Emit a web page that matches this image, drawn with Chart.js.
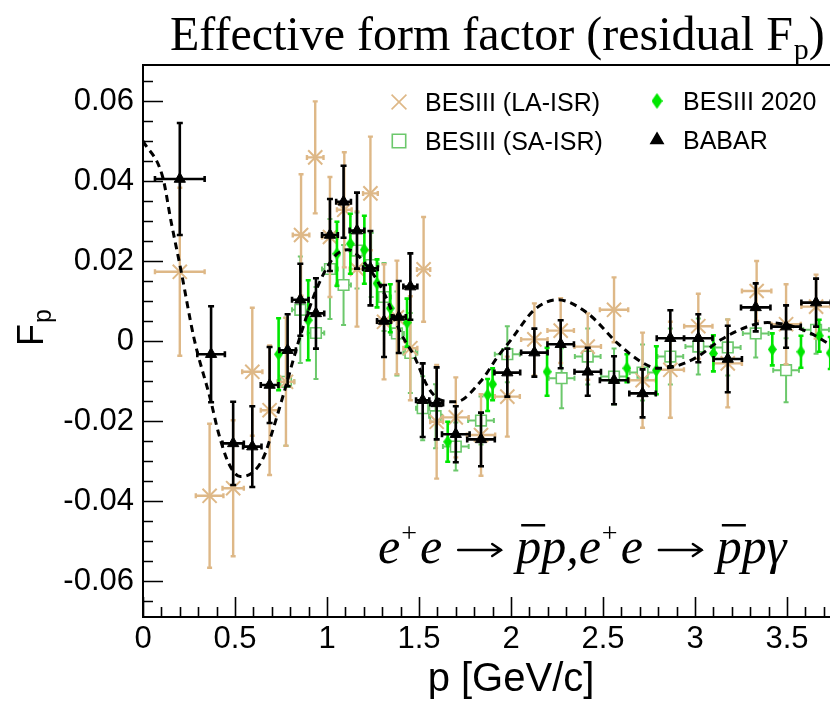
<!DOCTYPE html>
<html>
<head>
<meta charset="utf-8">
<title>Effective form factor</title>
<script src="https://cdn.jsdelivr.net/npm/chart.js@4.4.1/dist/chart.umd.min.js"></script>
<style>
  html, body { margin: 0; padding: 0; background: #fff; overflow: hidden; }
  #wrap { width: 830px; height: 704px; overflow: hidden; }
  canvas { display: block; }
</style>
</head>
<body>
<div id="wrap"><canvas id="ffChart" width="900" height="704"></canvas></div>
<script>
// BESIII (LA-ISR): p [GeV/c], residual F_p, half bin width, error
const laP  = [0.20, 0.362, 0.49, 0.594, 0.688, 0.777, 0.859, 0.936, 1.016, 1.094, 1.163, 1.236, 1.31, 1.38, 1.453, 1.525, 1.596, 1.70, 1.837, 1.98, 2.127, 2.27, 2.417, 2.56, 2.715, 2.866, 3.018, 3.178, 3.335, 3.495, 3.658];
const laF  = [0.0173, -0.0387, -0.0368, -0.0077, -0.0173, -0.0102, 0.0265, 0.0459, 0.026, 0.0328, 0.018, 0.0369, 0.0048, 0.0059, -0.0018, 0.0179, -0.0202, -0.0191, -0.0235, -0.0139, 0.0004, 0.0026, -0.0014, 0.0078, -0.0098, -0.0072, 0.0037, -0.0056, 0.0125, 0.0042, 0.0086];
const laDp = [0.135, 0.075, 0.058, 0.055, 0.048, 0.045, 0.045, 0.045, 0.043, 0.04, 0.04, 0.04, 0.038, 0.038, 0.038, 0.036, 0.035, 0.07, 0.077, 0.068, 0.072, 0.072, 0.072, 0.077, 0.072, 0.074, 0.077, 0.077, 0.08, 0.08, 0.08];
const laDF = [0.021, 0.018, 0.017, 0.016, 0.0162, 0.016, 0.0152, 0.014, 0.015, 0.0144, 0.0144, 0.0142, 0.0144, 0.0142, 0.013, 0.0131, 0.0142, 0.010, 0.0102, 0.010, 0.009, 0.0081, 0.0083, 0.0081, 0.0119, 0.012, 0.0081, 0.011, 0.0075, 0.010, 0.008];

// BESIII (SA-ISR)
const saP  = [0.777, 0.855, 0.94, 1.016, 1.09, 1.163, 1.24, 1.31, 1.38, 1.453, 1.52, 1.59, 1.70, 1.837, 1.98, 2.275, 2.417, 2.56, 2.715, 2.866, 3.018, 3.178, 3.33, 3.495, 3.658];
const saF  = [-0.0102, 0.0078, 0.002, 0.018, 0.014, 0.0226, 0.019, 0.011, 0.0019, -0.003, -0.0168, -0.0188, -0.0264, -0.0199, -0.0033, -0.0093, -0.0039, -0.0089, -0.0079, -0.0039, -0.0014, -0.0016, 0.0019, -0.0073, 0.0028];
const saDp = [0.045, 0.045, 0.045, 0.043, 0.04, 0.04, 0.04, 0.038, 0.038, 0.038, 0.036, 0.035, 0.07, 0.07, 0.068, 0.07, 0.07, 0.07, 0.07, 0.07, 0.07, 0.07, 0.07, 0.07, 0.07];
const saDF = [0.016, 0.0133, 0.0115, 0.0125, 0.010, 0.0095, 0.008, 0.0085, 0.0105, 0.010, 0.008, 0.008, 0.006, 0.006, 0.007, 0.0075, 0.007, 0.007, 0.007, 0.007, 0.007, 0.007, 0.006, 0.008, 0.006];

// BESIII 2020 (no bin widths)
const b20P  = [0.737, 0.898, 1.054, 1.127, 1.203, 1.272, 1.344, 1.435, 1.656, 1.873, 1.90, 2.196, 2.63, 2.79, 3.1, 3.42, 3.576, 3.675, 3.735];
const b20F  = [-0.0033, 0.0052, 0.0218, 0.0243, 0.0228, 0.0144, 0.0082, 0.0046, -0.0252, -0.0135, -0.0108, -0.0077, -0.0068, -0.0073, -0.0031, -0.0021, -0.0027, 0.0013, -0.003];
const b20DF = [0.009, 0.010, 0.008, 0.0075, 0.0085, 0.006, 0.006, 0.006, 0.005, 0.004, 0.004, 0.006, 0.0035, 0.006, 0.0045, 0.004, 0.004, 0.004, 0.004];

// BABAR
const bbP  = [0.20, 0.37, 0.49, 0.594, 0.688, 0.786, 0.855, 0.94, 1.016, 1.09, 1.163, 1.236, 1.31, 1.39, 1.453, 1.52, 1.596, 1.70, 1.837, 1.98, 2.127, 2.27, 2.417, 2.56, 2.715, 2.866, 3.018, 3.178, 3.33, 3.495, 3.658];
const bbF  = [0.0405, -0.0033, -0.0256, -0.0264, -0.011, -0.0023, 0.0103, 0.0069, 0.0265, 0.0348, 0.0276, 0.0182, 0.005, 0.006, 0.0136, -0.0148, -0.0156, -0.0233, -0.0246, -0.0079, -0.0029, -0.0008, -0.0077, -0.0098, -0.0131, 0.0007, 0.0007, -0.0045, 0.0084, 0.0036, 0.0096];
const bbDp = [0.135, 0.075, 0.058, 0.05, 0.048, 0.045, 0.045, 0.045, 0.043, 0.04, 0.04, 0.04, 0.038, 0.038, 0.038, 0.036, 0.035, 0.075, 0.075, 0.07, 0.072, 0.072, 0.072, 0.077, 0.072, 0.074, 0.077, 0.077, 0.08, 0.08, 0.08];
const bbDF = [0.014, 0.012, 0.0104, 0.0101, 0.0095, 0.009, 0.009, 0.0088, 0.009, 0.009, 0.0095, 0.0093, 0.009, 0.009, 0.0083, 0.0092, 0.009, 0.007, 0.0067, 0.006, 0.006, 0.006, 0.006, 0.006, 0.006, 0.007, 0.006, 0.0083, 0.006, 0.0053, 0.006];

// oscillation fit (dashed)
const fitP = [0, 0.107, 0.152, 0.207, 0.279, 0.366, 0.411, 0.466, 0.529, 0.60, 0.656, 0.70, 0.765, 0.859, 0.949, 1.04, 1.112, 1.221, 1.311, 1.402, 1.475, 1.547, 1.62, 1.70, 1.837, 1.928, 2.0, 2.127, 2.254, 2.417, 2.58, 2.707, 2.797, 2.888, 3.015, 3.14, 3.286, 3.395, 3.504, 3.63, 3.74, 3.85];
const fitF = [0.050, 0.041, 0.030, 0.0175, 0.0003, -0.0145, -0.0231, -0.0306, -0.0339, -0.0327, -0.029, -0.0231, -0.0131, 0.0019, 0.0136, 0.0211, 0.0228, 0.0186, 0.0119, 0.0019, -0.0039, -0.0114, -0.0148, -0.0152, -0.0100, -0.0039, 0.0003, 0.0078, 0.0103, 0.0069, -0.0006, -0.0052, -0.0068, -0.0064, -0.0039, 0.0003, 0.0036, 0.0046, 0.004, 0.0019, -0.001, -0.003];

const xTicks = [0, 0.5, 1, 1.5, 2, 2.5, 3, 3.5, 4];
const yTicks = [-0.06, -0.04, -0.02, 0, 0.02, 0.04, 0.06];

const TAN = '#deb887';
const PALE_GREEN = '#6cc86c';
const LIME = '#00e600';

const points = (p, f, dp, df) => p.map((x, i) => ({ x, y: f[i], dx: dp ? dp[i] : 0, dy: df[i] }));

function diamond(w, h, color) {
    const c = document.createElement('canvas');
    c.width = w; c.height = h;
    const g = c.getContext('2d');
    g.fillStyle = color;
    g.beginPath();
    g.moveTo(w / 2, 0); g.lineTo(w, h / 2); g.lineTo(w / 2, h); g.lineTo(0, h / 2);
    g.closePath(); g.fill();
    return c;
}

// error bars with small end caps, drawn under each series' markers
const errorBars = {
    id: 'errorBars',
    beforeDatasetDraw(chart, args) {
        const ds = chart.data.datasets[args.index];
        if (!ds.barColor) return;
        const { ctx, chartArea: a, scales: { x: xs, y: ys } } = chart;
        const c = ds.capSize;
        ctx.save();
        ctx.beginPath();
        ctx.rect(a.left, a.top, a.right - a.left, a.bottom - a.top);
        ctx.clip();
        ctx.strokeStyle = ds.barColor;
        ctx.lineWidth = ds.barWidth;
        ctx.beginPath();
        ds.data.forEach(d => {
            const cx = xs.getPixelForValue(d.x), cy = ys.getPixelForValue(d.y);
            const y0 = ys.getPixelForValue(d.y - d.dy), y1 = ys.getPixelForValue(d.y + d.dy);
            ctx.moveTo(cx, y0); ctx.lineTo(cx, y1);
            ctx.moveTo(cx - c, y0); ctx.lineTo(cx + c, y0);
            ctx.moveTo(cx - c, y1); ctx.lineTo(cx + c, y1);
            if (d.dx > 0) {
                const x0 = xs.getPixelForValue(d.x - d.dx), x1 = xs.getPixelForValue(d.x + d.dx);
                ctx.moveTo(x0, cy); ctx.lineTo(x1, cy);
                ctx.moveTo(x0, cy - c); ctx.lineTo(x0, cy + c);
                ctx.moveTo(x1, cy - c); ctx.lineTo(x1, cy + c);
            }
        });
        ctx.stroke();
        ctx.restore();
    }
};

// frame, inward ticks, titles, legend and reaction label
const decorations = {
    id: 'decorations',
    afterDraw(chart) {
        const { ctx, chartArea: a, scales: { x: xs, y: ys } } = chart;
        ctx.save();

        // frame
        ctx.strokeStyle = '#000';
        ctx.lineWidth = 2;
        ctx.strokeRect(a.left, a.top, a.right - a.left, a.bottom - a.top);

        // ticks drawn inside the frame
        ctx.lineWidth = 1.6;
        ctx.beginPath();
        for (let v = -0.065; v <= 0.0651; v += 0.005) {
            const py = Math.round(ys.getPixelForValue(v)) + 0.5;
            const major = Math.abs(Math.round(v * 50) - v * 50) < 1e-6;
            ctx.moveTo(a.left, py); ctx.lineTo(a.left + (major ? 20 : 10), py);
        }
        for (let v = 0; v <= 4.0001; v += 0.1) {
            const px = Math.round(xs.getPixelForValue(v)) + 0.5;
            const major = Math.abs(Math.round(v * 2) - v * 2) < 1e-6;
            ctx.moveTo(px, a.bottom); ctx.lineTo(px, a.bottom - (major ? 20 : 10));
        }
        ctx.stroke();

        ctx.fillStyle = '#000';
        ctx.textBaseline = 'alphabetic';

        // plot title
        ctx.textAlign = 'left';
        ctx.font = '48px "Liberation Serif"';
        const t1 = 'Effective form factor (residual F';
        ctx.fillText(t1, 170, 50);
        let tx = 170 + ctx.measureText(t1).width;
        ctx.font = '30px "Liberation Serif"';
        ctx.fillText('p', tx + 1, 59);
        tx += 1 + ctx.measureText('p').width;
        ctx.font = '48px "Liberation Serif"';
        ctx.fillText(')', tx, 50);

        // y axis title F_p
        ctx.save();
        ctx.translate(43, 346);
        ctx.rotate(-Math.PI / 2);
        ctx.font = '36px "Liberation Sans"';
        ctx.fillText('F', 0, 0);
        const fw = ctx.measureText('F').width;
        ctx.font = '25px "Liberation Sans"';
        ctx.fillText('p', fw + 1, 8);
        ctx.restore();

        // legend
        const entries = [
            { ds: 1, x: 399, y: 102, text: 'BESIII (LA-ISR)' },
            { ds: 0, x: 399, y: 141, text: 'BESIII (SA-ISR)' },
            { ds: 2, x: 657, y: 101, text: 'BESIII 2020' },
            { ds: 3, x: 657, y: 140, text: 'BABAR' }
        ];
        entries.forEach(e => {
            const d = chart.data.datasets[e.ds];
            ctx.save();
            ctx.fillStyle = d.legendFill;
            ctx.strokeStyle = d.pointBorderColor;
            if (d.pointStyle instanceof HTMLCanvasElement) {
                ctx.drawImage(d.legendMarker, e.x - d.legendMarker.width / 2, e.y - d.legendMarker.height / 2);
            } else {
                Chart.helpers.drawPoint(ctx, {
                    pointStyle: d.pointStyle, radius: d.legendRadius,
                    borderWidth: d.legendBorder, rotation: 0
                }, e.x, e.y);
            }
            ctx.restore();
            ctx.font = '25px "Liberation Sans"';
            ctx.fillText(e.text, e.x + 26, e.y + 9);
        });

        // reaction label
        const base = 563, fs = 50;
        let rx = 378;
        const ital = `italic ${fs}px "Liberation Serif"`;
        const sup = `${Math.round(fs * 0.55)}px "Liberation Serif"`;
        const put = (s, font, dy) => {
            ctx.font = font;
            ctx.fillText(s, rx, base + dy);
            const w = ctx.measureText(s).width;
            rx += w;
            return w;
        };
        const arrow = () => {
            rx += fs * 0.32;
            const len = fs * 0.86, ay = base - fs * 0.26;
            ctx.save();
            ctx.lineWidth = 2.4;
            ctx.lineCap = 'round';
            ctx.beginPath();
            ctx.moveTo(rx, ay); ctx.lineTo(rx + len, ay);
            ctx.moveTo(rx + len - 9, ay - 6); ctx.lineTo(rx + len, ay); ctx.lineTo(rx + len - 9, ay + 6);
            ctx.stroke();
            ctx.restore();
            rx += len + fs * 0.3;
        };
        const pbar = () => {
            const x0 = rx;
            const w = put('p', ital, 0);
            ctx.fillRect(x0 + 5, base - fs * 0.78, w - 1, 2.5);
        };
        const eplus = () => {
            put('e', ital, 0);
            rx += 1;
            put('+', sup, -fs * 0.42);
            rx += 3;
            put('e', ital, 0);
        };
        eplus(); arrow(); pbar(); put('p', ital, 0); put(',', ital, 0);
        eplus(); arrow(); pbar(); put('p', ital, 0); put('\u03b3', ital, 0);

        ctx.restore();
    }
};

Chart.defaults.font.family = '"Liberation Sans", Arial, sans-serif';
Chart.defaults.color = '#000';

new Chart(document.getElementById('ffChart'), {
    type: 'scatter',
    data: {
        datasets: [
            {
                label: 'BESIII (SA-ISR)',
                data: points(saP, saF, saDp, saDF),
                order: 5,
                pointStyle: 'rect', pointRadius: 7.5,
                pointBackgroundColor: '#fff', pointBorderColor: PALE_GREEN, pointBorderWidth: 1.6,
                barColor: PALE_GREEN, barWidth: 2, capSize: 2.5,
                legendFill: '#fff', legendRadius: 9.5, legendBorder: 1.5
            },
            {
                label: 'BESIII (LA-ISR)',
                data: points(laP, laF, laDp, laDF),
                order: 4,
                pointStyle: 'crossRot', pointRadius: 10,
                pointBorderColor: TAN, pointBackgroundColor: TAN, pointBorderWidth: 2,
                barColor: TAN, barWidth: 2.4, capSize: 2.5,
                legendFill: TAN, legendRadius: 10.5, legendBorder: 1.3
            },
            {
                label: 'BESIII 2020',
                data: points(b20P, b20F, null, b20DF),
                order: 3,
                pointStyle: diamond(9, 13, LIME), pointRadius: 6,
                pointBorderColor: LIME, pointBackgroundColor: LIME,
                legendMarker: diamond(11, 16, LIME),
                barColor: LIME, barWidth: 2.6, capSize: 2.5,
                legendFill: LIME
            },
            {
                label: 'BABAR',
                data: points(bbP, bbF, bbDp, bbDF),
                order: 2,
                pointStyle: 'triangle', pointRadius: 6.5,
                pointBackgroundColor: '#000', pointBorderColor: '#000', pointBorderWidth: 1,
                barColor: '#000', barWidth: 2.6, capSize: 3,
                legendFill: '#000', legendRadius: 7, legendBorder: 1
            },
            {
                label: 'fit',
                type: 'line',
                data: fitP.map((x, i) => ({ x, y: fitF[i] })),
                order: 1,
                borderColor: '#000', borderWidth: 3, borderDash: [7, 5],
                pointRadius: 0, fill: false,
                cubicInterpolationMode: 'monotone'
            }
        ]
    },
    options: {
        responsive: false,
        animation: false,
        events: [],
        layout: { padding: { top: 65, right: 21, left: 0, bottom: 0 } },
        plugins: { legend: { display: false }, tooltip: { enabled: false } },
        scales: {
            x: {
                type: 'linear', min: 0, max: 4,
                afterBuildTicks: s => { s.ticks = xTicks.map(v => ({ value: v })); },
                afterFit: s => { s.height = 87; },
                grid: { display: false, drawTicks: false },
                border: { display: false },
                ticks: { font: { size: 31 }, padding: 4, maxRotation: 0, autoSkip: false, callback: v => String(v) },
                title: { display: true, text: 'p [GeV/c]', font: { size: 40 }, padding: { top: 0, bottom: 0 } }
            },
            y: {
                type: 'linear', min: -0.069, max: 0.069,
                afterBuildTicks: s => { s.ticks = yTicks.map(v => ({ value: v })); },
                afterFit: s => { s.width = 143; },
                grid: { display: false, drawTicks: false },
                border: { display: false },
                ticks: { font: { size: 31 }, padding: 9, callback: v => (v === 0 ? '0' : v.toFixed(2)) }
            }
        }
    },
    plugins: [errorBars, decorations]
});
</script>
</body>
</html>
